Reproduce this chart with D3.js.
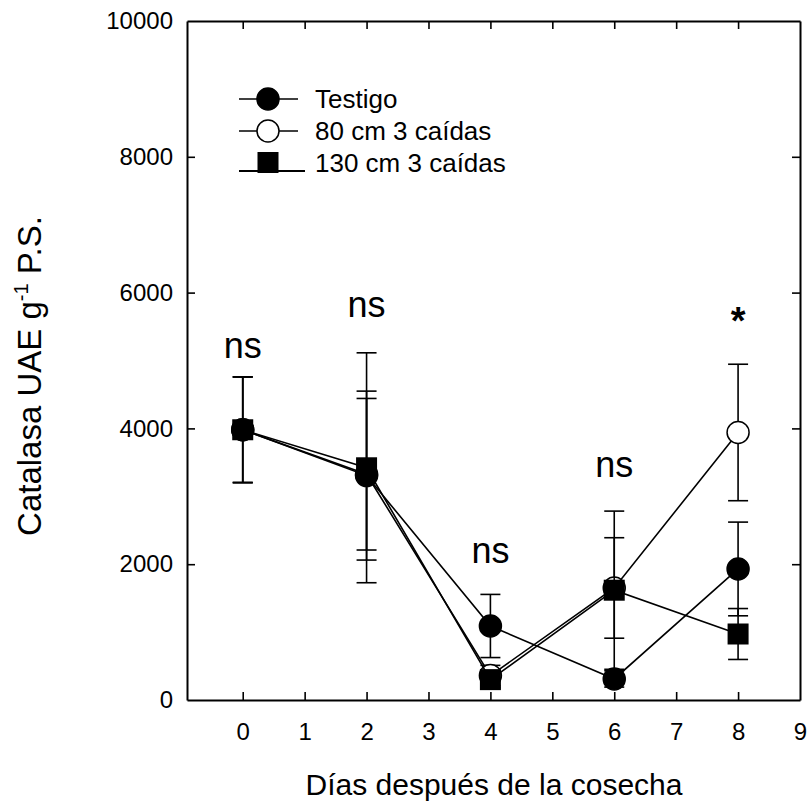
<!DOCTYPE html>
<html>
<head>
<meta charset="utf-8">
<script src="https://cdn.jsdelivr.net/npm/d3@7"></script>
<style>
  body { margin: 0; background: #fff; }
  svg { display: block; }
  text { font-family: Arial, "Liberation Sans", Helvetica, sans-serif; fill: #000; }
</style>
</head>
<body>
<svg id="chart" width="812" height="805"></svg>
<script>
// Catalase activity (UAE g-1 DW) after harvest, three treatments, mean ± error
const days = [0, 2, 4, 6, 8];

const testigo    = [3980, 3305, 1090, 310, 1930];
const testigoErr = [778, 1244, 465, 120, 690];

const cm80       = [3980, 3325, 360, 1650, 3940];
const cm80Err    = [778, 1116, 150, 740, 1005];

const cm130      = [3980, 3420, 300, 1617, 972];
const cm130Err   = [778, 1693, 120, 1165, 375];

const seriesNames = ["Testigo", "80 cm 3 caídas", "130 cm 3 caídas"];

const xTicks = [0, 1, 2, 3, 4, 5, 6, 7, 8, 9];
const yTicks = [0, 2000, 4000, 6000, 8000, 10000];

// significance notes above each sampling day
const noteDays  = [0, 2, 4, 6, 8];
const noteY     = [5035, 5643, 2017, 3287, 5388];
const noteTexts = ["ns", "ns", "ns", "ns", "*"];

const svg = d3.select("#chart");
const plotLeft = 187, plotRight = 800, plotTop = 21, plotBottom = 700;

const x = d3.scaleLinear().domain([-0.9, 9]).range([plotLeft, plotRight]);
const y = d3.scaleLinear().domain([0, 10000]).range([plotBottom, plotTop]);

const tick = 8;

// frame axes with inward ticks
const gB = svg.append("g").attr("transform", `translate(0,${plotBottom})`)
  .call(d3.axisBottom(x).tickValues(xTicks).tickFormat(d3.format("d"))
    .tickSizeInner(-tick).tickSizeOuter(0).tickPadding(23));
const gT = svg.append("g").attr("transform", `translate(0,${plotTop})`)
  .call(d3.axisTop(x).tickValues(xTicks).tickFormat("")
    .tickSizeInner(-tick).tickSizeOuter(0));
const gL = svg.append("g").attr("transform", `translate(${plotLeft},0)`)
  .call(d3.axisLeft(y).tickValues(yTicks).tickFormat(d3.format("d"))
    .tickSizeInner(-tick).tickSizeOuter(0).tickPadding(14));
const gR = svg.append("g").attr("transform", `translate(${plotRight},0)`)
  .call(d3.axisRight(y).tickValues(yTicks).tickFormat("")
    .tickSizeInner(-tick).tickSizeOuter(0));

[gB, gT, gL, gR].forEach(g => {
  g.selectAll("path.domain").attr("stroke", "#000").attr("stroke-width", 2);
  g.selectAll(".tick line").attr("stroke", "#000").attr("stroke-width", 1.6);
  g.selectAll(".tick text").attr("font-size", 24).attr("fill", "#000")
    .attr("font-family", "Arial, 'Liberation Sans', sans-serif");
});
// ticks that would sit on the frame corners keep only their labels
gB.selectAll(".tick").filter(d => d === 9).select("line").remove();
gT.selectAll(".tick").filter(d => d === 9).select("line").remove();
gL.selectAll(".tick").filter(d => d === 0 || d === 10000).select("line").remove();
gR.selectAll(".tick").filter(d => d === 0 || d === 10000).select("line").remove();

// axis titles
svg.append("text")
  .attr("x", 494).attr("y", 795)
  .attr("text-anchor", "middle").attr("font-size", 30)
  .text("Días después de la cosecha");

const yt = svg.append("text")
  .attr("transform", `translate(41,376) rotate(-90)`)
  .attr("text-anchor", "middle").attr("font-size", 33);
yt.append("tspan").text("Catalasa UAE g");
yt.append("tspan").attr("font-size", 20).attr("dy", -13).text("-1");
yt.append("tspan").attr("dy", 13).text(" P.S.");

// series: drawn so that the filled square ends on top
const series = [
  { name: seriesNames[1], vals: cm80,    err: cm80Err,    shape: "circle", fill: "#fff" },
  { name: seriesNames[0], vals: testigo, err: testigoErr, shape: "circle", fill: "#000" },
  { name: seriesNames[2], vals: cm130,   err: cm130Err,   shape: "square", fill: "#000" }
];

const line = d3.line().x(d => x(d.day)).y(d => y(d.v));
const capW = 10, r = 11, sq = 21;

series.forEach(s => {
  const pts = days.map((d, i) => ({ day: d, v: s.vals[i], e: s.err[i] }));
  const g = svg.append("g");

  // error bars
  const eb = g.selectAll("g.eb").data(pts).join("g").attr("class", "eb")
    .attr("stroke", "#000").attr("stroke-width", 1.6);
  eb.append("line")
    .attr("x1", d => x(d.day)).attr("x2", d => x(d.day))
    .attr("y1", d => y(d.v + d.e)).attr("y2", d => y(d.v - d.e));
  eb.append("line")
    .attr("x1", d => x(d.day) - capW).attr("x2", d => x(d.day) + capW)
    .attr("y1", d => y(d.v + d.e)).attr("y2", d => y(d.v + d.e));
  eb.append("line")
    .attr("x1", d => x(d.day) - capW).attr("x2", d => x(d.day) + capW)
    .attr("y1", d => y(d.v - d.e)).attr("y2", d => y(d.v - d.e));

  // connecting line
  g.append("path").datum(pts).attr("d", line)
    .attr("fill", "none").attr("stroke", "#000").attr("stroke-width", 1.6);

  // markers
  if (s.shape === "circle") {
    g.selectAll("circle").data(pts).join("circle")
      .attr("cx", d => x(d.day)).attr("cy", d => y(d.v)).attr("r", r)
      .attr("fill", s.fill).attr("stroke", "#000").attr("stroke-width", 1.5);
  } else {
    g.selectAll("rect").data(pts).join("rect")
      .attr("x", d => x(d.day) - sq / 2).attr("y", d => y(d.v) - sq / 2)
      .attr("width", sq).attr("height", sq)
      .attr("fill", s.fill);
  }
});

// significance labels
svg.selectAll("text.note").data(noteDays.map((d, i) => ({ day: d, v: noteY[i], t: noteTexts[i] })))
  .join("text").attr("class", "note")
  .attr("x", d => x(d.day)).attr("y", d => y(d.v))
  .attr("text-anchor", "middle")
  .attr("font-size", d => d.t === "*" ? 38 : 36)
  .attr("font-weight", d => d.t === "*" ? "bold" : "normal")
  .text(d => d.t);

// legend
const legend = svg.append("g");
const legRows = [
  { name: seriesNames[0], shape: "circle", fill: "#000", cy: 99 },
  { name: seriesNames[1], shape: "circle", fill: "#fff", cy: 131 },
  { name: seriesNames[2], shape: "square", fill: "#000", cy: 162.5 }
];
legRows.forEach(rw => {
  if (rw.shape === "circle") {
    legend.append("line").attr("x1", 239).attr("x2", 298)
      .attr("y1", rw.cy).attr("y2", rw.cy)
      .attr("stroke", "#000").attr("stroke-width", 1.6);
    legend.append("circle").attr("cx", 268).attr("cy", rw.cy).attr("r", r)
      .attr("fill", rw.fill).attr("stroke", "#000").attr("stroke-width", 1.5);
  } else {
    legend.append("line").attr("x1", 239).attr("x2", 305)
      .attr("y1", rw.cy + sq / 2 - 2).attr("y2", rw.cy + sq / 2 - 2)
      .attr("stroke", "#000").attr("stroke-width", 1.8);
    legend.append("rect").attr("x", 268 - sq / 2).attr("y", rw.cy - sq / 2)
      .attr("width", sq).attr("height", sq).attr("fill", rw.fill);
  }
  legend.append("text").attr("x", 315).attr("y", rw.cy + 9)
    .attr("font-size", 26).text(rw.name);
});
</script>
</body>
</html>
